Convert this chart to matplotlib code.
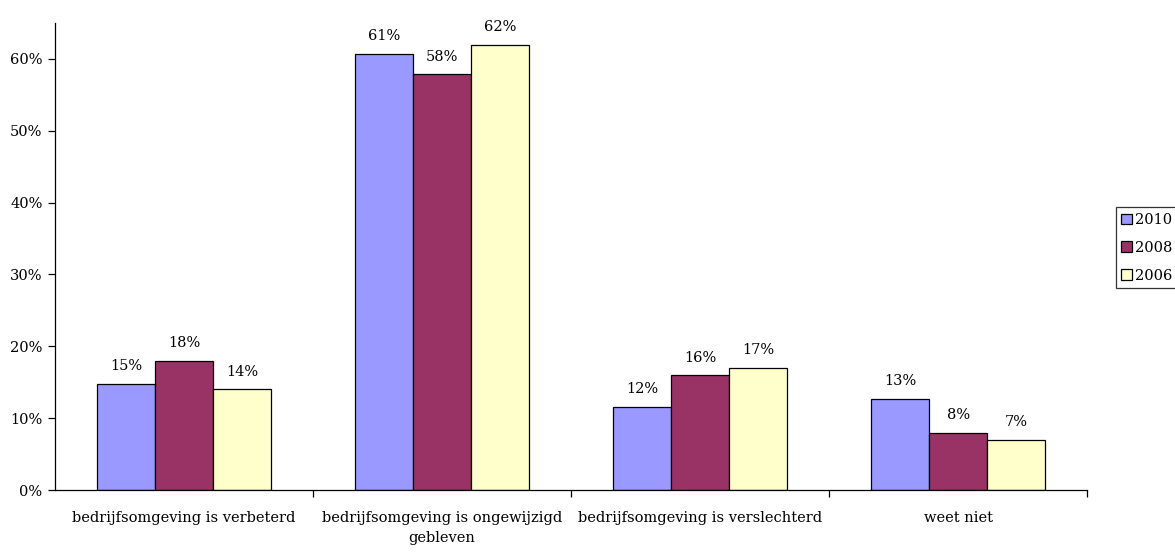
import numpy as np
from matplotlib import pyplot as plt

categories = ["bedrijfsomgeving is verbeterd",
              "bedrijfsomgeving is ongewijzigd\ngebleven",
              "bedrijfsomgeving is verslechterd",
              "weet niet"]
years = ["2010", "2008", "2006"]
values_2010 = [0.148, 0.607, 0.116, 0.127]
values_2008 = [0.180, 0.579, 0.160, 0.080]
values_2006 = [0.140, 0.620, 0.170, 0.070]
colors = ["#9999FF", "#993366", "#FFFFCC"]

plt.rcParams['font.family'] = ['DejaVu Serif']
plt.rcParams['font.size'] = 10.5

fig = plt.figure(figsize=(11.75, 5.52), dpi=100)
ax = fig.add_axes([0.0468, 0.1123, 0.8785, 0.846])

x = np.arange(len(categories))
width = 0.225
series = [values_2010, values_2008, values_2006]
for i, vals in enumerate(series):
    pos = x + (i - 1) * width
    bars = ax.bar(pos, vals, width, color=colors[i], edgecolor="black",
                  linewidth=0.9, label=years[i], zorder=2)
    for b, v in zip(bars, vals):
        ax.annotate("{:.0f}%".format(v * 100),
                    (b.get_x() + b.get_width() / 2, v),
                    xytext=(0, 7.5), textcoords="offset points",
                    ha="center", va="bottom")

ax.set_xlim(-0.5, len(categories) - 0.5)
ax.set_ylim(0, 0.65)
ax.set_yticks(np.arange(0, 0.61, 0.1))
ax.set_yticklabels(["{:.0f}%".format(t * 100) for t in np.arange(0, 0.61, 0.1)])

# category labels sit between the boundary ticks
ax.set_xticks(x)
ax.set_xticklabels(categories, linespacing=1.6)
ax.tick_params(axis="x", length=0, pad=15)
ax.set_xticks(np.arange(0.5, len(categories), 1), minor=True)
ax.tick_params(axis="x", which="minor", length=5, width=0.9, direction="out")
ax.tick_params(axis="y", length=5, width=0.9, direction="out", pad=4)

for s in ["top", "right"]:
    ax.spines[s].set_visible(False)
ax.spines["left"].set_linewidth(0.9)
ax.spines["bottom"].set_linewidth(0.9)

leg = fig.legend(loc="upper left", bbox_to_anchor=(0.9495, 0.625),
                 frameon=True, fancybox=False, edgecolor="black",
                 handlelength=0.7, handleheight=0.7, handletextpad=0.2,
                 labelspacing=0.95, borderpad=0.4, borderaxespad=0)
leg.get_frame().set_linewidth(0.9)

fig.savefig("out.png", dpi=100)
